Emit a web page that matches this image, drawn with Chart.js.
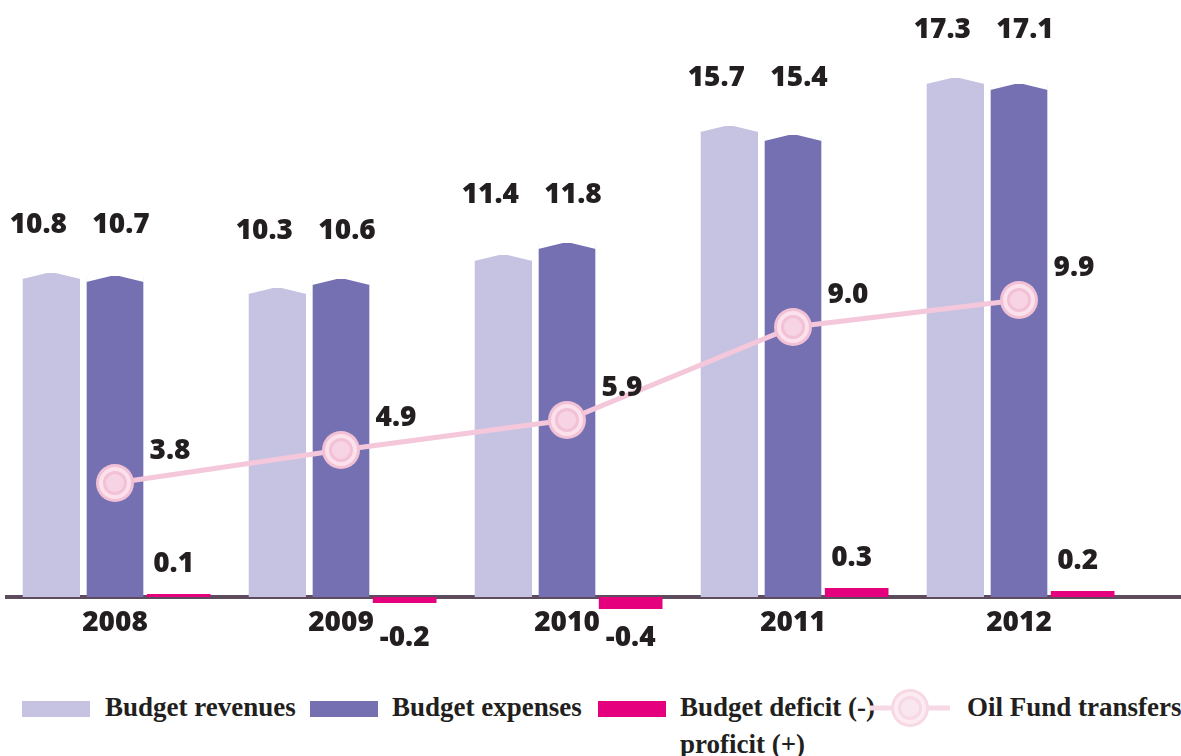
<!DOCTYPE html>
<html>
<head>
<meta charset="utf-8">
<script src="https://cdn.jsdelivr.net/npm/chart.js@4.4.1/dist/chart.umd.min.js"></script>
<style>
  body { margin: 0; background: #fff; }
  #wrap { position: relative; width: 1181px; height: 756px; overflow: hidden; }
  #chartBox { position: absolute; left: -4px; top: 0; width: 1185px; height: 680px; }
  .lg { position: absolute; font-family: "Liberation Serif", serif; font-weight: bold; font-size: 27px; color: #231f20; line-height: 37px; white-space: nowrap; }
  .sw { position: absolute; top: 701px; width: 68px; height: 16px; }
</style>
</head>
<body>
<div id="wrap">
  <div id="chartBox"><canvas id="chart"></canvas></div>
  <div class="sw" style="left:22px;background:#c5c3e1"></div>
  <div class="lg" style="left:105px;top:689px">Budget revenues</div>
  <div class="sw" style="left:310px;background:#7470b1"></div>
  <div class="lg" style="left:392px;top:689px">Budget expenses</div>
  <div class="sw" style="left:598px;background:#e5007d"></div>
  <div class="lg" style="left:680px;top:689px">Budget deficit (-)<br>proficit (+)</div>
  <canvas id="oilKey" width="84" height="44" style="position:absolute;left:868px;top:687px"></canvas>
  <div class="lg" style="left:967px;top:689px">Oil Fund transfers</div>
</div>
<script>
const years = ["2008", "2009", "2010", "2011", "2012"];
const revenues = [10.8, 10.3, 11.4, 15.7, 17.3];
const expenses = [10.7, 10.6, 11.8, 15.4, 17.1];
const deficit = [0.1, -0.2, -0.4, 0.3, 0.2];
const oilFund = [3.8, 4.9, 5.9, 9.0, 9.9];

const labelFont = "800 28px 'Open Sans'";
const textColor = "#231f20";

// ringed circle used for the oil fund points
function drawRings(g, cx, cy, light) {
    const rings = light
        ? [[19, "#f7d9e5"], [16, "#fcecf2"], [12, "#f7d9e5"], [9, "#fae6ee"]]
        : [[19, "#f2c1d6"], [16, "#fbe1eb"], [12, "#f2c1d6"], [9, "#f7d4e3"]];
    rings.forEach(([r, col]) => {
        g.beginPath();
        g.arc(cx, cy, r, 0, Math.PI * 2);
        g.fillStyle = col;
        g.fill();
    });
}

function makeMarker() {
    const c = document.createElement("canvas");
    c.width = 40;
    c.height = 40;
    drawRings(c.getContext("2d"), 20, 20, false);
    return c;
}

(function drawKey() {
    const g = document.getElementById("oilKey").getContext("2d");
    g.strokeStyle = "#f7d9e5";
    g.lineWidth = 5;
    g.beginPath();
    g.moveTo(2, 21);
    g.lineTo(82, 21);
    g.stroke();
    drawRings(g, 42, 21, true);
})();

// bevel the top corners of the revenue / expense bars
const barCaps = {
    id: "barCaps",
    afterDatasetDraw(chart, args) {
        if (args.index !== 1 && args.index !== 2) return;
        const ctx = chart.ctx;
        ctx.save();
        ctx.fillStyle = "#fff";
        args.meta.data.forEach((el) => {
            const left = el.x - el.width / 2 - 0.5;
            const right = el.x + el.width / 2 + 0.5;
            ctx.beginPath();
            ctx.moveTo(left, el.y - 1);
            ctx.lineTo(el.x, el.y - 1);
            ctx.lineTo(left, el.y + 6);
            ctx.closePath();
            ctx.fill();
            ctx.beginPath();
            ctx.moveTo(right, el.y - 1);
            ctx.lineTo(el.x, el.y - 1);
            ctx.lineTo(right, el.y + 6);
            ctx.closePath();
            ctx.fill();
        });
        ctx.restore();
    }
};

const baseline = {
    id: "baseline",
    beforeDatasetsDraw(chart) {
        const ctx = chart.ctx;
        const y0 = chart.scales.y.getPixelForValue(0);
        ctx.save();
        ctx.strokeStyle = "#5d4b5e";
        ctx.lineWidth = 4;
        ctx.beginPath();
        ctx.moveTo(9, y0);
        ctx.lineTo(chart.width, y0);
        ctx.stroke();
        ctx.restore();
    }
};

const valueLabels = {
    id: "valueLabels",
    afterDatasetsDraw(chart) {
        const ctx = chart.ctx;
        const y0 = chart.scales.y.getPixelForValue(0);
        const revMeta = chart.getDatasetMeta(1);
        const expMeta = chart.getDatasetMeta(2);
        ctx.save();
        ctx.font = labelFont;
        ctx.fillStyle = textColor;
        ctx.textBaseline = "middle";
        ctx.textAlign = "center";
        chart.data.datasets.forEach((ds, i) => {
            const meta = chart.getDatasetMeta(i);
            meta.data.forEach((el, j) => {
                const v = ds.data[j];
                const txt = v.toFixed(1);
                if (ds.type === "line") {
                    ctx.fillText(txt, el.x + 55, el.y - 32);
                } else if (i === 3) {
                    if (v < 0)
                        ctx.fillText(txt, el.x, y0 + 41);
                    else
                        ctx.fillText(txt, el.x - 5, el.y - 30);
                } else {
                    // revenue and expense labels share one row per year
                    const top = Math.min(revMeta.data[j].y, expMeta.data[j].y);
                    ctx.fillText(txt, el.x + (i === 1 ? -13 : 6), top - 48);
                }
            });
        });
        ctx.restore();
    }
};

new Chart(document.getElementById("chart"), {
    type: "bar",
    data: {
        labels: years,
        datasets: [
            {
                type: "line",
                label: "Oil Fund transfers",
                data: oilFund,
                order: -1,
                borderColor: "#f4c7da",
                borderWidth: 5,
                pointStyle: makeMarker(),
                pointRadius: 1,
                pointHoverRadius: 1,
                tension: 0
            },
            {
                label: "Budget revenues",
                data: revenues,
                backgroundColor: "#c5c3e1",
                categoryPercentage: 0.845,
                barPercentage: 0.9
            },
            {
                label: "Budget expenses",
                data: expenses,
                backgroundColor: "#7470b1",
                categoryPercentage: 0.845,
                barPercentage: 0.89
            },
            {
                label: "Budget deficit (-) proficit (+)",
                data: deficit,
                backgroundColor: "#e5007d",
                categoryPercentage: 0.845,
                barPercentage: 1.0
            }
        ]
    },
    options: {
        responsive: true,
        maintainAspectRatio: false,
        animation: false,
        layout: { padding: { left: 1, right: 49, top: 12, bottom: 40 } },
        plugins: {
            legend: { display: false },
            tooltip: { enabled: false }
        },
        scales: {
            x: {
                position: { y: 0 },
                grid: { display: false, drawTicks: false },
                border: { display: false },
                ticks: {
                    color: textColor,
                    font: { family: "Open Sans", weight: "800", size: 28 },
                    padding: 9
                }
            },
            y: {
                display: false,
                min: -1.4333,
                max: 19.5
            }
        }
    },
    plugins: [baseline, barCaps, valueLabels]
});
</script>
</body>
</html>
